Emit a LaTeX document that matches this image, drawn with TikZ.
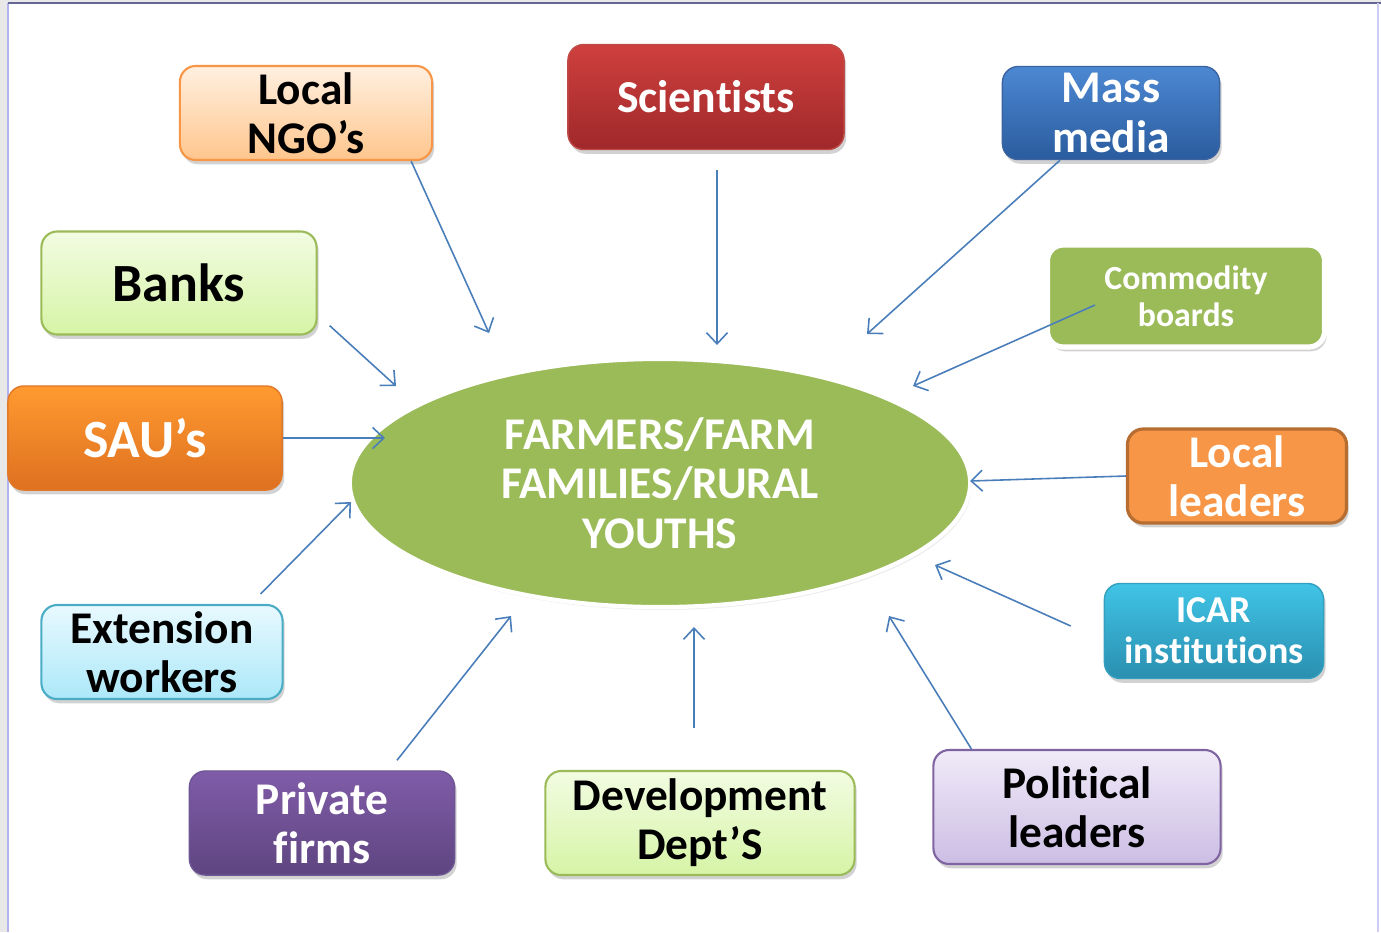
\documentclass[tikz,border=0pt]{standalone}
\usepackage{fontspec}
\setmainfont{Carlito}[Ligatures={NoCommon,NoRequired,NoContextual}]
\usetikzlibrary{shapes.geometric,shadows,arrows.meta}

\definecolor{arrowblue}{HTML}{4A7EBB}
\definecolor{olivegreen}{HTML}{9BBB59}
\definecolor{ngoline}{HTML}{F79646}
\definecolor{lightline}{HTML}{9BBB59}
\definecolor{extline}{HTML}{4BACC6}
\definecolor{polline}{HTML}{8064A2}
\definecolor{leadline}{HTML}{B66D31}

\tikzset{
  box/.style={rounded corners=4.5pt, align=center, inner sep=0pt, font=\bfseries,
    drop shadow={shadow xshift=0.6pt, shadow yshift=-1.2pt, opacity=0.35}},
  normaltext/.style={font=\bfseries\fontsize{12.9}{14}\selectfont},
  bigtext/.style={font=\bfseries\fontsize{15.3}{17}\selectfont},
  smalltext/.style={font=\bfseries\fontsize{9.6}{10.5}\selectfont},
  arr/.style={draw=arrowblue, line width=0.45pt, -{Straight Barb[length=3.2pt,width=6pt]}}
}

\begin{document}
\begin{tikzpicture}[x=0.01cm,y=-0.01cm]
  \useasboundingbox (0,0) rectangle (1381,932);
  % frame
  \fill[white] (0,0) rectangle (1381,932);
  \fill[black!9] (0,0) rectangle (8,932);
  \fill[black!9] (0,0) rectangle (1381,2);
  \draw[color=black!25!blue!30, line width=0.6pt] (8,3) -- (8,932);
  \draw[color=black!70!blue!60, line width=0.5pt] (8,3) -- (1381,3);
  \draw[color=black!20!blue!20, line width=0.6pt] (1378,3) -- (1378,932);

  % centre
  \node[ellipse, fill=olivegreen, draw=white, line width=1.2pt, minimum width=6.2cm, minimum height=2.48cm,
        inner sep=0pt, align=center, text=white, normaltext,
        drop shadow={shadow xshift=0.5pt, shadow yshift=-0.8pt, opacity=0.15}] (farm) at (660,483)
        {FARMERS/FARM\\FAMILIES/RURAL\\YOUTHS};

  % boxes
  \node[box, normaltext, top color=orange!12, bottom color=orange!45!white, draw=ngoline, line width=0.6pt,
        minimum width=2.52cm, minimum height=0.94cm] (ngo) at (306,113) {Local\\NGO’s};
  \node[box, font=\bfseries\fontsize{13}{15}\selectfont, text=white, top color={rgb,255:red,206;green,64;blue,62},
        bottom color={rgb,255:red,160;green,40;blue,42}, draw={rgb,255:red,190;green,75;blue,72}, line width=0.4pt,
        minimum width=2.76cm, minimum height=1.05cm] (sci) at (706,97) {Scientists};
  \node[box, normaltext, text=white, top color={rgb,255:red,76;green,136;blue,210},
        bottom color={rgb,255:red,42;green,92;blue,158}, draw={rgb,255:red,60;green,100;blue,160}, line width=0.4pt,
        minimum width=2.17cm, minimum height=0.93cm] (media) at (1111,113) {Mass\\media};
  \node[box, smalltext, text=white, fill=olivegreen, draw=white, line width=1.5pt,
        minimum width=2.77cm, minimum height=1.02cm] (comm) at (1186,296) {Commodity\\boards};
  \node[box, bigtext, top color={rgb,255:red,242;green,252;blue,226}, bottom color={rgb,255:red,214;green,244;blue,166},
        draw=lightline, line width=0.6pt, minimum width=2.75cm, minimum height=1.03cm] (banks) at (179,283) {Banks};
  \node[box, bigtext, text=white, top color={rgb,255:red,255;green,154;blue,48},
        bottom color={rgb,255:red,222;green,112;blue,32}, draw={rgb,255:red,225;green,120;blue,40}, line width=0.4pt,
        minimum width=2.74cm, minimum height=1.04cm] (sau) at (145,438) {SAU’s};
  \node[box, normaltext, top color={rgb,255:red,232;green,249;blue,254}, bottom color={rgb,255:red,172;green,232;blue,249},
        draw=extline, line width=0.6pt, minimum width=2.41cm, minimum height=0.94cm] (ext) at (162,652) {Extension\\workers};
  \node[box, normaltext, text=white, top color={rgb,255:red,128;green,92;blue,168},
        bottom color={rgb,255:red,94;green,69;blue,128}, draw={rgb,255:red,110;green,85;blue,150}, line width=0.4pt,
        minimum width=2.65cm, minimum height=1.04cm] (priv) at (322,823) {Private\\firms};
  \node[box, normaltext, top color={rgb,255:red,242;green,252;blue,226}, bottom color={rgb,255:red,214;green,244;blue,166},
        draw=lightline, line width=0.6pt, minimum width=3.09cm, minimum height=1.04cm] (dev) at (700,823) {Development\\Dept’S};
  \node[box, normaltext, top color={rgb,255:red,240;green,234;blue,248}, bottom color={rgb,255:red,204;green,190;blue,228},
        draw=polline, line width=0.6pt, minimum width=2.87cm, minimum height=1.14cm] (pol) at (1077,807) {Political\\leaders};
  \node[box, font=\bfseries\fontsize{10.8}{11.7}\selectfont, text=white, top color={rgb,255:red,64;green,196;blue,230},
        bottom color={rgb,255:red,42;green,143;blue,176}, draw={rgb,255:red,50;green,160;blue,190}, line width=0.4pt,
        minimum width=2.19cm, minimum height=0.95cm] (icar) at (1214,631) {ICAR\\institutions};
  \node[box, normaltext, text=white, fill=ngoline, draw=leadline, line width=0.9pt,
        minimum width=2.19cm, minimum height=0.94cm, drop shadow={opacity=0}] (loclead) at (1237,476) {Local\\leaders};

  % arrow tips near the centre
  \coordinate (t-ngo) at (489,333);
  \coordinate (t-sci) at (717,345);
  \coordinate (t-media) at (867,334);
  \coordinate (t-comm) at (913,386);
  \coordinate (t-banks) at (396,386);
  \coordinate (t-sau) at (385,438);
  \coordinate (t-ext) at (351,502);
  \coordinate (t-priv) at (511,616);
  \coordinate (t-dev) at (694,627);
  \coordinate (t-pol) at (889,616);
  \coordinate (t-icar) at (935,565);
  \coordinate (t-lead) at (970,481);

  % arrows
  \draw[arr] ([shift={(-22,0)}]ngo.south east) -- (t-ngo);
  \draw[arr] ([shift={(11,20)}]sci.south) -- (t-sci);
  \draw[arr] ([shift={(-51,0)}]media.south) -- (t-media);
  \draw[arr] ([shift={(-91,9)}]comm.center) -- (t-comm);
  \draw[arr] ([shift={(12,-10)}]banks.south east) -- (t-banks);
  \draw[arr] (sau.east) -- (t-sau);
  \draw[arr] ([shift={(-23,-10)}]ext.north east) -- (t-ext);
  \draw[arr] ([shift={(75,-10)}]priv.north) -- (t-priv);
  \draw[arr] ([shift={(-6,-42)}]dev.north) -- (t-dev);
  \draw[arr] ([shift={(39,0)}]pol.north west) -- (t-pol);
  \draw[arr] ([shift={(-33,-5)}]icar.west) -- (t-icar);
  \draw[arr] (loclead.west) -- (t-lead);
\end{tikzpicture}
\end{document}
